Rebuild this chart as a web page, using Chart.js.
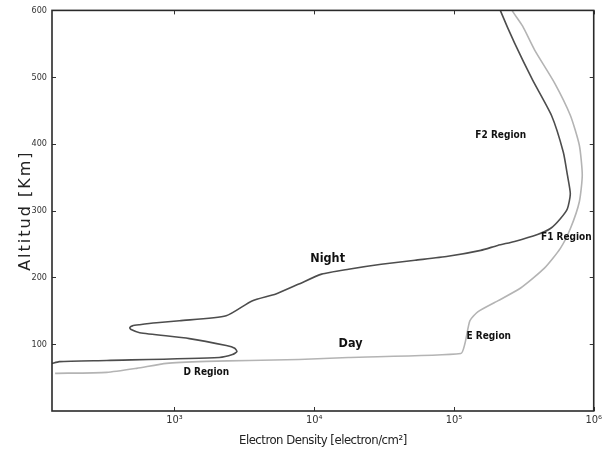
<!DOCTYPE html>
<html>
<head>
<meta charset="utf-8">
<script src="https://cdn.jsdelivr.net/npm/chart.js@4/dist/chart.umd.min.js"></script>
<style>
  html, body { margin: 0; padding: 0; background: #ffffff; }
  #wrap { width: 605px; height: 451px; position: relative; }
</style>
</head>
<body>
<div id="wrap"><canvas id="c" width="605" height="451"></canvas></div>
<script>
// ---- data ----
const densityTicks = [1e3, 1e4, 1e5, 1e6];
const densityTickLabels = ['10³', '10⁴', '10⁵', '10⁶'];
const altitudeTicks = [100, 200, 300, 400, 500, 600];

const nightDensity = [133, 150, 328, 2090, 2600, 2800, 2700, 2350, 1279, 564, 490, 479, 500, 564, 745, 1086, 2344, 3589, 5322, 7762, 11300, 17600, 30200, 52700, 90600, 155600, 205600, 271600, 396000, 490000, 577000, 648000, 680000, 648000, 606000, 499000, 365000, 271600, 216000, 213000];
const nightAltitude = [71, 74, 75.7, 80.2, 84.5, 89, 94, 98, 108.4, 117.3, 122, 124.8, 127.5, 129.2, 132.2, 135.2, 142.6, 164.9, 175.3, 190.1, 205, 212.4, 219.8, 225.8, 231.7, 240.6, 248, 254, 264.4, 273.3, 288.1, 303, 325.3, 353.5, 387.6, 442.6, 496, 551, 598.5, 605];

const dayDensity = [140, 328, 537, 877, 1690, 3420, 7762, 17600, 112000, 119800, 130000, 148000, 205600, 300000, 444000, 577000, 681000, 789000, 828000, 789000, 681000, 524000, 378000, 310000, 263000, 258000];
const dayAltitude = [56.4, 57.9, 63.9, 71.3, 74.3, 75.7, 77.2, 80.2, 86.1, 101, 135.2, 148.5, 164.9, 184.2, 213.9, 243.6, 273.3, 313.4, 353.5, 398, 442.6, 491.6, 540.6, 576.3, 598.5, 605];

const seriesNames = ['Night', 'Day'];

const regionTexts = ['Night', 'Day', 'D Region', 'E Region', 'F1 Region', 'F2 Region'];
const regionDensity = [12480, 18200, 1690, 177400, 637000, 216000];
const regionAltitude = [228.7, 101, 57.9, 111.4, 259.9, 412.9];

// ---- chart ----
const narrow = "'Liberation Sans Narrow', 'DejaVu Sans Condensed', 'Liberation Sans', sans-serif";
const regionSizes = [12.5, 12.5, 10, 10, 10, 10];

const toPts = (xs, ys) => xs.map((x, i) => ({ x: x, y: ys[i] }));

const spacingPlugin = {
  id: 'titleSpacing',
  beforeDraw(chart) {
    const ctx = chart.ctx;
    const wrap = (scale, spacing) => {
      if (scale._wrappedTitle) return;
      const orig = scale.drawTitle;
      scale.drawTitle = function () {
        ctx.save();
        ctx.letterSpacing = spacing;
        orig.call(this);
        ctx.restore();
      };
      scale._wrappedTitle = true;
    };
    wrap(chart.scales.y, '2px');
    wrap(chart.scales.x, '-0.5px');
  }
};

const labelPlugin = {
  id: 'regionLabels',
  afterDatasetsDraw(chart) {
    const ctx = chart.ctx;
    const xs = chart.scales.x, ys = chart.scales.y;
    ctx.save();
    ctx.fillStyle = '#111';
    ctx.textAlign = 'center';
    ctx.textBaseline = 'middle';
    regionTexts.forEach((t, i) => {
      ctx.font = 'bold ' + regionSizes[i] + 'px ' + narrow;
      ctx.fillText(t, xs.getPixelForValue(regionDensity[i]), ys.getPixelForValue(regionAltitude[i]));
    });
    ctx.restore();
  }
};

const framePlugin = {
  id: 'frame',
  afterDraw(chart) {
    const ctx = chart.ctx;
    const a = chart.chartArea;
    const xs = chart.scales.x, ys = chart.scales.y;
    ctx.save();
    ctx.strokeStyle = '#333';
    ctx.lineWidth = 1;
    ctx.beginPath();
    densityTicks.forEach(v => {
      const px = Math.round(xs.getPixelForValue(v)) + 0.5;
      ctx.moveTo(px, a.bottom); ctx.lineTo(px, a.bottom - 4);
      ctx.moveTo(px, a.top); ctx.lineTo(px, a.top + 4);
    });
    altitudeTicks.forEach(v => {
      const py = Math.round(ys.getPixelForValue(v)) + 0.5;
      ctx.moveTo(a.left, py); ctx.lineTo(a.left + 4, py);
      ctx.moveTo(a.right, py); ctx.lineTo(a.right - 4, py);
    });
    ctx.stroke();
    ctx.lineWidth = 1.6;
    ctx.strokeStyle = '#2a2a2a';
    ctx.strokeRect(a.left, a.top, a.right - a.left, a.bottom - a.top);
    ctx.restore();
  }
};

new Chart(document.getElementById('c'), {
  type: 'scatter',
  data: {
    datasets: [
      {
        label: seriesNames[0],
        data: toPts(nightDensity, nightAltitude),
        showLine: true,
        borderColor: '#4d4d4d',
        borderWidth: 1.6,
        pointRadius: 0,
        tension: 0.2
      },
      {
        label: seriesNames[1],
        data: toPts(dayDensity, dayAltitude),
        showLine: true,
        borderColor: '#b4b4b4',
        borderWidth: 1.6,
        pointRadius: 0,
        tension: 0.2
      }
    ]
  },
  options: {
    responsive: false,
    animation: false,
    devicePixelRatio: 1,
    layout: { padding: { top: 7, right: 9, left: 0, bottom: 0 } },
    plugins: {
      legend: { display: false },
      tooltip: { enabled: false }
    },
    scales: {
      x: {
        type: 'logarithmic',
        min: 133,
        max: 1e6,
        afterBuildTicks: s => { s.ticks = densityTicks.map(v => ({ value: v })); },
        afterFit: s => { s.height = 40; },
        grid: { display: false, drawTicks: false },
        border: { display: false },
        ticks: {
          padding: 3,
          color: '#333',
          font: { family: narrow, size: 11 },
          maxRotation: 0,
          autoSkip: false,
          callback: (v) => { const i = densityTicks.indexOf(v); return i >= 0 ? densityTickLabels[i] : ''; }
        },
        title: {
          display: true,
          text: 'Electron Density [electron/cm²]',
          color: '#222',
          font: { family: narrow, size: 13 },
          padding: { top: 0, bottom: 3 }
        }
      },
      y: {
        type: 'linear',
        min: 0,
        max: 600,
        afterBuildTicks: s => { s.ticks = altitudeTicks.map(v => ({ value: v })); },
        afterFit: s => { s.width = 52; },
        grid: { display: false, drawTicks: false },
        border: { display: false },
        ticks: {
          padding: 5,
          color: '#333',
          font: { family: narrow, size: 9 },
          callback: v => String(v)
        },
        title: {
          display: true,
          text: 'Altitud [Km]',
          color: '#222',
          font: { family: "'DejaVu Sans', sans-serif", size: 16 },
          padding: { top: 16, bottom: 0 }
        }
      }
    }
  },
  plugins: [spacingPlugin, labelPlugin, framePlugin]
});
</script>
</body>
</html>
